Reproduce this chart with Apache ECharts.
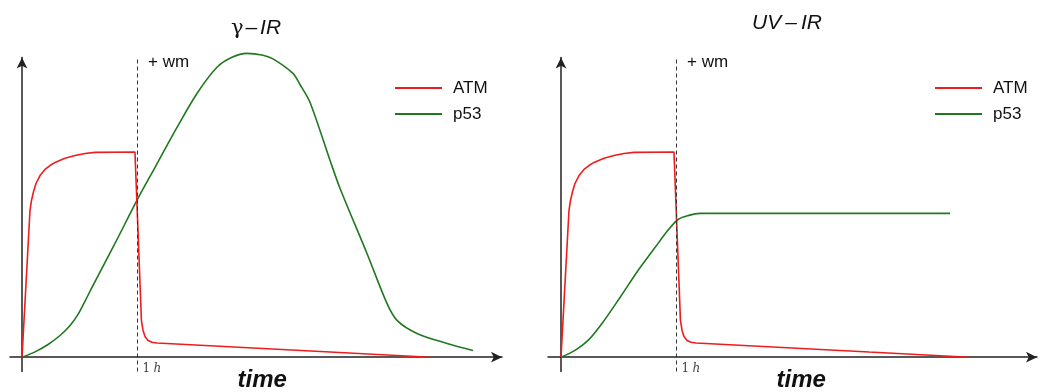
<!DOCTYPE html>
<html><head><meta charset="utf-8">
<script src="https://cdn.jsdelivr.net/npm/echarts@6/dist/echarts.min.js"></script>
<style>html,body{margin:0;padding:0;background:#fff}#c{width:1043px;height:392px}</style>
</head><body><div id="c"></div>
<script>
// time in hours, level in arbitrary units (ATM plateau = 1)
const atmTime  = [0, 0.069, 0.082, 0.100, 0.121, 0.156, 0.199, 0.242, 0.286, 0.372, 0.459, 0.545, 0.632, 0.978, 1.034, 1.048, 1.065, 1.091, 1.126, 1.169, 2.667, 3.532];
const atmLevel = [0, 0.717, 0.766, 0.810, 0.849, 0.888, 0.918, 0.937, 0.952, 0.972, 0.986, 0.996, 1.001, 1.003, 0.180, 0.131, 0.101, 0.082, 0.073, 0.069, 0.025, 0.0];

const p53GammaTime  = [0, 0.113, 0.225, 0.329, 0.416, 0.485, 0.545, 0.606, 0.805, 1.004, 1.152, 1.342, 1.515, 1.688, 1.818, 1.948, 2.078, 2.173, 2.346, 2.407, 2.494, 2.667, 2.753, 2.987, 3.160, 3.247, 3.420, 3.680, 3.905];
const p53GammaLevel = [0, 0.026, 0.062, 0.106, 0.155, 0.209, 0.273, 0.341, 0.556, 0.776, 0.928, 1.123, 1.289, 1.417, 1.466, 1.485, 1.477, 1.458, 1.387, 1.333, 1.245, 0.962, 0.826, 0.507, 0.263, 0.180, 0.116, 0.067, 0.033];

const p53UvTime  = [0, 0.121, 0.234, 0.355, 0.511, 0.667, 0.814, 0.926, 1.013, 1.100, 1.203, 3.368];
const p53UvLevel = [0, 0.033, 0.082, 0.165, 0.292, 0.424, 0.536, 0.620, 0.673, 0.692, 0.703, 0.703];

const seriesNames = ['ATM', 'p53'];
const washTime = 1;
const washLabel = '+ wm';
const tickLabel = '{n|1} {i|h}';
const axisName = 'time';
const axisNameTime = 2.08;

const RED = '#ee1d1d', GREEN = '#20781f', AX = '#222';
const SANS = '"Liberation Sans", Arial, sans-serif';
const yMin = -0.07, yMax = 1.465;
const zip = (a, b) => a.map((v, i) => [v, b[i]]);

function xAxisCfg(idx, min, max) {
  return {
    type: 'value', gridIndex: idx, min: min, max: max,
    splitLine: { show: false }, axisTick: { show: false }, axisLabel: { show: false },
    axisLine: { show: true, onZero: true, symbol: ['none', 'arrow'], symbolSize: [8, 11], lineStyle: { color: AX, width: 1.5 } }
  };
}
function yAxisCfg(idx) {
  return {
    type: 'value', gridIndex: idx, min: yMin, max: yMax,
    splitLine: { show: false }, axisTick: { show: false }, axisLabel: { show: false },
    axisLine: { show: true, onZero: true, symbol: ['none', 'arrow'], symbolSize: [8, 11], lineStyle: { color: AX, width: 1.5 } }
  };
}
const wmLine = {
  silent: true, symbol: 'none', label: { show: false },
  lineStyle: { type: [4, 3], color: '#333', width: 1 },
  data: [{ xAxis: washTime }]
};
function lineSeries(name, gi, data, color, extra) {
  return Object.assign({
    type: 'line', name: name, xAxisIndex: gi, yAxisIndex: gi, data: data,
    showSymbol: false, symbol: 'none', clip: false,
    lineStyle: { color: color, width: 1.6 }, itemStyle: { color: color }
  }, extra || {});
}
function legendCfg(left) {
  return {
    left: left, top: 74, orient: 'vertical', data: seriesNames, icon: 'rect',
    itemWidth: 47, itemHeight: 2, itemGap: 8, selectedMode: false,
    textStyle: { fontFamily: SANS, fontSize: 17, color: '#111', lineHeight: 18, padding: [0, 0, 0, 6] }
  };
}
const T = { fontSize: 21, color: '#111', fontWeight: 'normal' };

const chart = echarts.init(document.getElementById('c'), null, { renderer: 'canvas' });
chart.setOption({
  animation: false,
  backgroundColor: '#fff',
  title: [
    { text: '{g|γ}{d|–}{i|IR}', left: 251, top: 13, textAlign: 'center',
      textStyle: { fontWeight: 'normal', rich: {
        g: Object.assign({ fontFamily: 'DejaVu Serif' }, T),
        d: Object.assign({ fontFamily: SANS, padding: [0, 3, 0, 2] }, T),
        i: Object.assign({ fontFamily: SANS, fontStyle: 'italic' }, T) } } },
    { text: '{i|UV}{d|–}{i|IR}', left: 782, top: 8, textAlign: 'center',
      textStyle: { fontWeight: 'normal', rich: {
        d: Object.assign({ fontFamily: SANS, fontStyle: 'italic', padding: [0, 4] }, T),
        i: Object.assign({ fontFamily: SANS, fontStyle: 'italic' }, T) } } }
  ],
  legend: [legendCfg(390), legendCfg(930)],
  grid: [
    { left: 10, top: 57.5, width: 492, height: 314, containLabel: false, outerBoundsMode: 'none' },
    { left: 548, top: 57.5, width: 489, height: 314, containLabel: false, outerBoundsMode: 'none' }
  ],
  xAxis: [xAxisCfg(0, -0.104, 4.156), xAxisCfg(1, -0.1126, 4.121)],
  yAxis: [yAxisCfg(0), yAxisCfg(1)],
  series: [
    lineSeries(seriesNames[0], 0, zip(atmTime, atmLevel), RED, { markLine: wmLine, z: 3 }),
    lineSeries(seriesNames[1], 0, zip(p53GammaTime, p53GammaLevel), GREEN, { smooth: 0.3, z: 2 }),
    lineSeries(seriesNames[0], 1, zip(atmTime, atmLevel), RED, { markLine: wmLine, z: 3 }),
    lineSeries(seriesNames[1], 1, zip(p53UvTime, p53UvLevel), GREEN, { smooth: 0.3, z: 2 })
  ]
});

const g = [];
[0, 1].forEach(gi => {
  const top = chart.convertToPixel({ gridIndex: gi }, [washTime, yMax]);
  const base = chart.convertToPixel({ gridIndex: gi }, [washTime, 0]);
  const nm = chart.convertToPixel({ gridIndex: gi }, [axisNameTime, 0]);
  g.push({ type: 'text', x: top[0] + 10.5, y: top[1] + 4.5, silent: true,
    style: { text: washLabel, fontFamily: SANS, fontSize: 17, fill: '#111', verticalAlign: 'middle' } });
  g.push({ type: 'text', x: base[0] + 5, y: base[1] + 12, silent: true,
    style: { text: tickLabel, verticalAlign: 'middle', align: 'left',
      rich: { n: { fontFamily: 'DejaVu Serif', fontSize: 12, fill: '#444' },
              i: { fontFamily: 'DejaVu Serif', fontStyle: 'italic', fontSize: 12, fill: '#444' } } } });
  g.push({ type: 'text', x: nm[0], y: nm[1] + 23, silent: true,
    style: { text: axisName, fontFamily: SANS, fontSize: 24, fontWeight: 'bold', fontStyle: 'italic',
      fill: '#111', align: 'center', verticalAlign: 'middle' } });
});
chart.setOption({ graphic: g });
</script>
</body></html>
